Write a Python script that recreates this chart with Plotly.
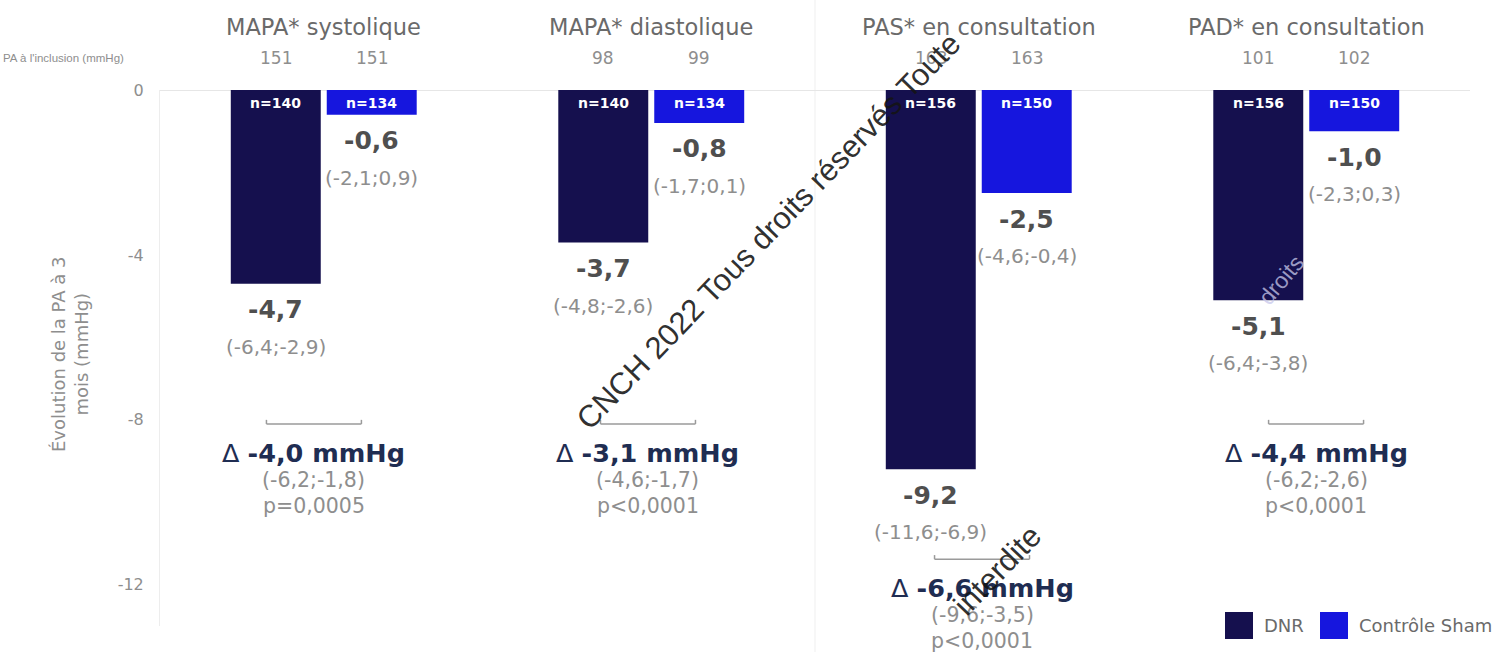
import plotly.graph_objects as go

# ---- data -------------------------------------------------------------
panels = ["MAPA* systolique", "MAPA* diastolique",
          "PAS* en consultation", "PAD* en consultation"]
groups = ["DNR", "Contrôle Sham"]

dnr_change = [-4.7, -3.7, -9.2, -5.1]
sham_change = [-0.6, -0.8, -2.5, -1.0]
dnr_ci = ["(-6,4;-2,9)", "(-4,8;-2,6)", "(-11,6;-6,9)", "(-6,4;-3,8)"]
sham_ci = ["(-2,1;0,9)", "(-1,7;0,1)", "(-4,6;-0,4)", "(-2,3;0,3)"]
dnr_n = [140, 140, 156, 156]
sham_n = [134, 134, 150, 150]
dnr_baseline = [151, 98, 163, 101]
sham_baseline = [151, 99, 163, 102]

delta = [-4.0, -3.1, -6.6, -4.4]
delta_ci = ["(-6,2;-1,8)", "(-4,6;-1,7)", "(-9,6;-3,5)", "(-6,2;-2,6)"]
p_values = ["p=0,0005", "p<0,0001", "p<0,0001", "p<0,0001"]

y_ticks = [0, -4, -8, -12]

# ---- styling ----------------------------------------------------------
DNR_COLOR = "#15104e"
SHAM_COLOR = "#1616de"
FONT = "DejaVu Sans"
GREY_TXT = "#6a6a6a"
LIGHT_TXT = "#8e8e8e"
VALUE_TXT = "#4f4f4f"
DELTA_TXT = "#1f2d52"
MARK_FONT = "Liberation Sans"
MARK_COLOR = "rgba(20,20,20,0.9)"

W, H = 1505, 652
ML, MR, MT, MB = 160, 35, 90, 26
PW, PH = W - ML - MR, H - MT - MB


def px(xp):
    return (xp - ML) / PW


def py(yp):
    return (H - MB - yp) / PH


def fmt(v):
    return f"{v:.1f}".replace(".", ",")


BARGAP, GROUPGAP = 0.414, 0.0625
HALF_SLOT = (1 - BARGAP) / 4  # centre of each bar relative to group centre
SPREAD = 0.02                  # difference blocks are spaced slightly wider

idx = list(range(len(panels)))

fig = go.Figure()
fig.add_trace(go.Bar(x=idx, y=dnr_change, name=groups[0],
                     marker=dict(color=DNR_COLOR, line_width=0),
                     showlegend=False, hoverinfo="skip"))
fig.add_trace(go.Bar(x=idx, y=sham_change, name=groups[1],
                     marker=dict(color=SHAM_COLOR, line_width=0),
                     showlegend=False, hoverinfo="skip"))

ann = []
shapes = []

for i in idx:
    # panel title and baseline pressure
    ann.append(dict(x=i, y=0, yshift=63, text=panels[i], showarrow=False,
                    font=dict(family=FONT, size=22.5, color=GREY_TXT)))
    for off, base in ((-HALF_SLOT, dnr_baseline[i]), (HALF_SLOT, sham_baseline[i])):
        ann.append(dict(x=i + off, y=0, yshift=32, text=str(base), showarrow=False,
                        font=dict(family=FONT, size=17, color=LIGHT_TXT)))

    # bar annotations
    for off, val, ci, n in ((-HALF_SLOT, dnr_change[i], dnr_ci[i], dnr_n[i]),
                            (HALF_SLOT, sham_change[i], sham_ci[i], sham_n[i])):
        ann.append(dict(x=i + off, y=0, yshift=-13, text=f"<b>n={n}</b>",
                        showarrow=False,
                        font=dict(family=FONT, size=14, color="white")))
        ann.append(dict(x=i + off, y=val, yshift=-26, text=f"<b>{fmt(val)}</b>",
                        showarrow=False,
                        font=dict(family=FONT, size=25, color=VALUE_TXT)))
        ann.append(dict(x=i + off, y=val, yshift=-63, text=ci, showarrow=False,
                        font=dict(family=FONT, size=20, color=LIGHT_TXT)))

    # treatment difference block
    xc = i + (i - 1.5) * SPREAD
    level = min(-8.1, dnr_change[i] - 2.18)
    shapes.append(dict(type="line", xref="x", yref="y", x0=xc - 0.145, x1=xc + 0.145,
                       y0=level, y1=level, line=dict(color="#9a9a9a", width=1.5)))
    for xe in (xc - 0.145, xc + 0.145):
        shapes.append(dict(type="line", xref="x", yref="y", x0=xe, x1=xe,
                           y0=level, y1=level + 0.1,
                           line=dict(color="#9a9a9a", width=1.5)))
    ann.append(dict(x=xc, y=level, yshift=-29,
                    text=f"Δ <b>{fmt(delta[i])} mmHg</b>", showarrow=False,
                    font=dict(family=FONT, size=25.5, color=DELTA_TXT)))
    ann.append(dict(x=xc, y=level, yshift=-56, text=delta_ci[i], showarrow=False,
                    font=dict(family=FONT, size=20.5, color=LIGHT_TXT)))
    ann.append(dict(x=xc, y=level, yshift=-82, text=p_values[i], showarrow=False,
                    font=dict(family=FONT, size=20.5, color=LIGHT_TXT)))

# row label for baseline values
ann.append(dict(xref="paper", x=px(126), y=0, yshift=32, xanchor="right",
                text="PA à l'inclusion (mmHg)", showarrow=False,
                font=dict(family="Liberation Sans", size=11.5, color=LIGHT_TXT)))

# y-axis title
ann.append(dict(xref="paper", yref="paper", x=px(70), y=py(354),
                xanchor="center", yanchor="middle",
                text="Évolution de la PA à 3<br>mois (mmHg)", textangle=-90,
                showarrow=False,
                font=dict(family=FONT, size=18, color=LIGHT_TXT)))

# legend
for name, col, x0 in ((groups[0], DNR_COLOR, 1225), (groups[1], SHAM_COLOR, 1320)):
    shapes.append(dict(type="rect", xref="paper", yref="paper",
                       x0=px(x0), x1=px(x0 + 28), y0=py(639), y1=py(612),
                       fillcolor=col, line_width=0))
    ann.append(dict(xref="paper", yref="paper", x=px(x0 + 37), y=py(625),
                    xanchor="left", yanchor="middle", text=name, showarrow=False,
                    font=dict(family=FONT, size=18, color=GREY_TXT)))

# panel separator
shapes.append(dict(type="line", xref="x", yref="paper", x0=1.5, x1=1.5,
                   y0=py(H), y1=py(0), line=dict(color="#efefef", width=1),
                   layer="below"))

# copyright watermark
ann.append(dict(xref="paper", yref="paper", x=px(768), y=py(231),
                xanchor="center", yanchor="middle",
                text="CNCH 2022 Tous droits réservés Toute",
                textangle=-46, showarrow=False,
                font=dict(family=MARK_FONT, size=31, color=MARK_COLOR)))
ann.append(dict(xref="paper", yref="paper", x=px(997), y=py(570),
                xanchor="center", yanchor="middle",
                text="interdite",
                textangle=-46, showarrow=False,
                font=dict(family=MARK_FONT, size=31, color=MARK_COLOR)))
ann.append(dict(xref="paper", yref="paper", x=px(1281), y=py(280),
                xanchor="center", yanchor="middle",
                text="droits", textangle=-50, showarrow=False,
                font=dict(family=MARK_FONT, size=23,
                          color="rgba(200,200,235,0.75)")))

fig.update_layout(
    width=W, height=H,
    margin=dict(l=ML, r=MR, t=MT, b=MB, pad=0),
    paper_bgcolor="white", plot_bgcolor="white",
    barmode="group", bargap=BARGAP, bargroupgap=GROUPGAP,
    showlegend=False,
    annotations=ann, shapes=shapes,
    xaxis=dict(range=[-0.5, 3.5], showticklabels=False, showgrid=False,
               zeroline=False, showline=False, fixedrange=True),
    yaxis=dict(range=[-13, 0], tickvals=y_ticks,
               ticktext=[str(t) for t in y_ticks],
               showgrid=False, zeroline=True, zerolinecolor="#e6e6e6",
               zerolinewidth=1, showline=True, linecolor="#ededed",
               ticks="", ticklabelstandoff=12,
               tickfont=dict(family=FONT, size=16, color=LIGHT_TXT)),
)

fig.write_html("out.html")
